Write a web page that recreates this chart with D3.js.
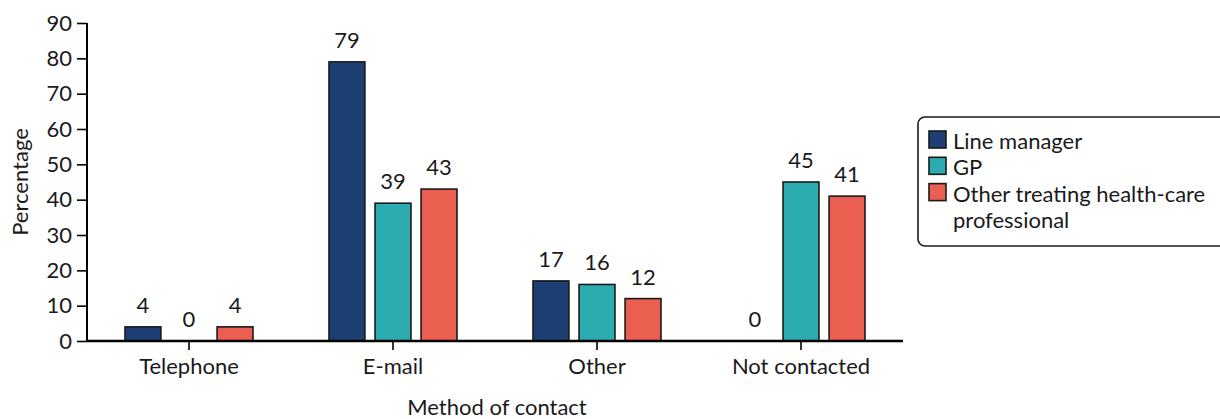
<!DOCTYPE html>
<html>
<head>
<meta charset="utf-8">
<script src="https://cdn.jsdelivr.net/npm/d3@7"></script>
<style>
  html, body { margin: 0; padding: 0; background: #fff; }
  svg { display: block; font-family: Lato, "Open Sans", sans-serif; }
</style>
</head>
<body>
<svg id="chart" width="1220" height="419"></svg>
<script>
// Method of contact, percentage by who was contacted
const categories = ["Telephone", "E-mail", "Other", "Not contacted"];
const seriesNames = ["Line manager", "GP", "Other treating health-care professional"];
const lineManager = [4, 79, 17, 0];
const gp = [0, 39, 16, 45];
const otherProfessional = [4, 43, 12, 41];
const yTicks = [0, 10, 20, 30, 40, 50, 60, 70, 80, 90];

const seriesValues = [lineManager, gp, otherProfessional];
const colors = ["#1e3f74", "#2cacb0", "#eb5f51"];
const fontSize = 22;
const ink = "#1a1a1a";

const svg = d3.select("#chart");
const plotLeft = 87, plotRight = 903, plotTop = 23, plotBottom = 341;

const x = d3.scaleBand().domain(categories).range([plotLeft, plotRight]).padding(0);
const y = d3.scaleLinear().domain([0, 90]).range([plotBottom, plotTop]);

// series offset inside each category
const inner = d3.scaleBand().domain(seriesNames).range([-64, 64]).paddingInner(0.22);

const g = svg.append("g");

// bars and value labels
seriesNames.forEach((name, si) => {
  const vals = seriesValues[si];
  categories.forEach((c, ci) => {
    const v = vals[ci];
    const bx = x(c) + x.bandwidth() / 2 + inner(name);
    if (v > 0) {
      g.append("rect")
        .attr("x", bx)
        .attr("y", y(v))
        .attr("width", inner.bandwidth())
        .attr("height", y(0) - y(v))
        .attr("fill", colors[si])
        .attr("stroke", ink)
        .attr("stroke-width", 1.6);
    }
    g.append("text")
      .attr("x", bx + inner.bandwidth() / 2)
      .attr("y", y(v) - 14)
      .attr("text-anchor", "middle")
      .attr("font-size", fontSize)
      .attr("fill", ink)
      .text(v);
  });
});

// y axis
const yAxis = svg.append("g")
  .attr("transform", `translate(${plotLeft},0)`)
  .call(d3.axisLeft(y).tickValues(yTicks).tickSize(10).tickPadding(5));
yAxis.select(".domain").attr("stroke", "#000").attr("stroke-width", 2).attr("d", `M0,${plotBottom}V${plotTop}`);
yAxis.selectAll(".tick line").attr("stroke", "#000").attr("stroke-width", 1.6);
yAxis.selectAll(".tick text").attr("font-size", fontSize).attr("fill", ink).attr("font-family", "Lato, sans-serif");

// x axis
const xAxis = svg.append("g")
  .attr("transform", `translate(0,${plotBottom})`)
  .call(d3.axisBottom(x).tickSize(9).tickPadding(8));
xAxis.select(".domain").attr("stroke", "#000").attr("stroke-width", 2.4).attr("d", `M${plotLeft},0H${plotRight}`);
xAxis.selectAll(".tick line").attr("stroke", "#000").attr("stroke-width", 1.6);
xAxis.selectAll(".tick text").attr("font-size", fontSize).attr("fill", ink).attr("font-family", "Lato, sans-serif");

// axis titles
svg.append("text")
  .attr("transform", `translate(28,${(plotTop + plotBottom) / 2}) rotate(-90)`)
  .attr("text-anchor", "middle")
  .attr("font-size", fontSize)
  .attr("fill", ink)
  .text("Percentage");

svg.append("text")
  .attr("x", 497)
  .attr("y", 415)
  .attr("text-anchor", "middle")
  .attr("font-size", fontSize)
  .attr("fill", ink)
  .text("Method of contact");

// legend
const legend = svg.append("g").attr("transform", "translate(918,117)");
legend.append("rect")
  .attr("x", 0).attr("y", 0)
  .attr("width", 320).attr("height", 129)
  .attr("rx", 7)
  .attr("fill", "#fff")
  .attr("stroke", ink)
  .attr("stroke-width", 1.6);

const legendLines = [["Line manager"], ["GP"], ["Other treating health-care", "professional"]];
const rowGap = 26.3;
let row = 0;
legendLines.forEach((lines, i) => {
  const baseline = 32 + row * rowGap;
  legend.append("rect")
    .attr("x", 11).attr("y", baseline - 18)
    .attr("width", 17).attr("height", 17)
    .attr("fill", colors[i])
    .attr("stroke", ink)
    .attr("stroke-width", 1.6);
  lines.forEach((t, li) => {
    legend.append("text")
      .attr("x", 35)
      .attr("y", baseline + li * rowGap)
      .attr("font-size", fontSize)
      .attr("fill", ink)
      .text(t);
  });
  row += lines.length;
});
</script>
</body>
</html>
